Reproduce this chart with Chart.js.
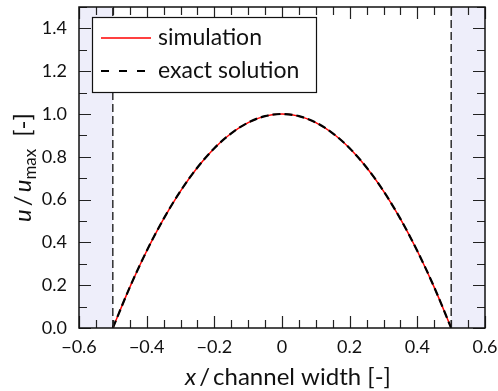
<!DOCTYPE html>
<html>
<head>
<meta charset="utf-8">
<script src="https://cdn.jsdelivr.net/npm/chart.js@4/dist/chart.umd.min.js"></script>
<style>
html,body{margin:0;padding:0;background:#fff;}
#wrap{width:498px;height:391px;position:relative;}
</style>
</head>
<body>
<div id="wrap"><canvas id="c" width="498" height="391"></canvas></div>
<script>
// ---- data ----
const xPos = [-0.5,-0.45,-0.4,-0.35,-0.3,-0.25,-0.2,-0.15,-0.1,-0.05,0,0.05,0.1,0.15,0.2,0.25,0.3,0.35,0.4,0.45,0.5];
const simulation = [0,0.19,0.36,0.51,0.64,0.75,0.84,0.91,0.96,0.99,1.0,0.99,0.96,0.91,0.84,0.75,0.64,0.51,0.36,0.19,0];
const exactSolution = [0,0.19,0.36,0.51,0.64,0.75,0.84,0.91,0.96,0.99,1.0,0.99,0.96,0.91,0.84,0.75,0.64,0.51,0.36,0.19,0];
const wallPositions = [-0.5, 0.5];
const xRange = [-0.6, 0.6];
const yRange = [0, 1.5];
const xMajorTicks = [-0.6,-0.4,-0.2,0,0.2,0.4,0.6];
const yMajorTicks = [0,0.2,0.4,0.6,0.8,1.0,1.2,1.4];
const xMinorStep = 0.05;
const yMinorStep = 0.1;
const legendLabels = ['simulation', 'exact solution'];

const FONT = 'Lato, "DejaVu Sans", sans-serif';
const SHADE = '#eeeefa';

function pts(xs, ys){ return xs.map((x,i)=>({x:x, y:ys[i]})); }

const wallData = [];
wallPositions.forEach((w,i)=>{
  if(i>0) wallData.push({x:w, y:NaN});
  wallData.push({x:w, y:yRange[0]});
  wallData.push({x:w, y:yRange[1]});
});

function fmtX(v){
  if (Math.abs(v) < 1e-9) return '0';
  return v.toFixed(1).replace('-', '\u2212');
}

const decor = {
  id: 'decor',
  beforeDatasetsDraw(chart){
    const {ctx, chartArea:a, scales:{x}} = chart;
    ctx.save();
    ctx.fillStyle = SHADE;
    const xl = x.getPixelForValue(xRange[0]);
    const wl = x.getPixelForValue(wallPositions[0]);
    const wr = x.getPixelForValue(wallPositions[1]);
    const xr = x.getPixelForValue(xRange[1]);
    ctx.fillRect(xl, a.top, wl-xl, a.bottom-a.top);
    ctx.fillRect(wr, a.top, xr-wr, a.bottom-a.top);
    ctx.restore();
  },
  afterDatasetsDraw(chart){
    const {ctx, chartArea:a, scales:{x,y}} = chart;
    ctx.save();
    // ticks (inward, all four sides)
    ctx.strokeStyle = '#222';
    ctx.lineWidth = 1.2;
    const MAJ = 12, MIN = 8;
    ctx.beginPath();
    const nx = Math.round((xRange[1]-xRange[0])/xMinorStep);
    for(let i=0;i<=nx;i++){
      const v = xRange[0] + i*xMinorStep;
      const isMaj = xMajorTicks.some(t=>Math.abs(t-v)<1e-9);
      const len = isMaj?MAJ:MIN;
      const px = Math.round(x.getPixelForValue(v))+0.5;
      ctx.moveTo(px, a.bottom); ctx.lineTo(px, a.bottom-len);
      ctx.moveTo(px, a.top); ctx.lineTo(px, a.top+len);
    }
    const ny = Math.round((yRange[1]-yRange[0])/yMinorStep);
    for(let i=0;i<=ny;i++){
      const v = yRange[0] + i*yMinorStep;
      const isMaj = yMajorTicks.some(t=>Math.abs(t-v)<1e-9);
      const len = isMaj?MAJ:MIN;
      const py = Math.round(y.getPixelForValue(v))+0.5;
      ctx.moveTo(a.left, py); ctx.lineTo(a.left+len, py);
      ctx.moveTo(a.right, py); ctx.lineTo(a.right-len, py);
    }
    ctx.stroke();
    // frame
    ctx.strokeStyle = '#111';
    ctx.lineWidth = 1.5;
    ctx.strokeRect(a.left, a.top, a.right-a.left, a.bottom-a.top);

    // legend
    const bx = a.left + 13, by = a.top + 10, bw = 224, bh = 75;
    ctx.fillStyle = '#fff';
    ctx.fillRect(bx, by, bw, bh);
    ctx.strokeStyle = '#111';
    ctx.lineWidth = 1.2;
    ctx.strokeRect(bx+0.5, by+0.5, bw, bh);
    const rows = [by+21, by+54];
    const ds = chart.data.datasets;
    const sampleDash = [[], [8, 10]];
    [0,1].forEach(i=>{
      const d = ds[i];
      ctx.beginPath();
      ctx.strokeStyle = d.borderColor;
      ctx.lineWidth = d.borderWidth;
      ctx.setLineDash(sampleDash[i]);
      ctx.moveTo(bx+9, rows[i]); ctx.lineTo(bx+59, rows[i]);
      ctx.stroke();
      ctx.setLineDash([]);
      ctx.fillStyle = '#111';
      ctx.font = '23px ' + FONT;
      ctx.textBaseline = 'middle';
      ctx.textAlign = 'left';
      ctx.fillText(legendLabels[i], bx+66, rows[i]);
    });

    // x axis title
    ctx.fillStyle = '#111';
    ctx.textBaseline = 'alphabetic';
    const it = 'italic 24px ' + FONT, up = '24px ' + FONT;
    const parts = [[it,'x'],[up,'\u2009/\u2009channel width [-]']];
    let tw = 0;
    parts.forEach(p=>{ctx.font=p[0]; tw+=ctx.measureText(p[1]).width;});
    let cx = (a.left+a.right)/2 - tw/2 + 6;
    const baseY = 385;
    parts.forEach(p=>{ctx.font=p[0]; ctx.fillText(p[1], cx, baseY); cx += ctx.measureText(p[1]).width;});

    // y axis title (rotated)
    ctx.save();
    ctx.translate(31, (a.top+a.bottom)/2);
    ctx.rotate(-Math.PI/2);
    const sub = '17px ' + FONT;
    const yparts = [[it,'u',0],[up,'\u2009/\u2009',0],[it,'u',0],[sub,'max',5],[up,'\u2002[-]',0]];
    tw = 0;
    yparts.forEach(p=>{ctx.font=p[0]; tw+=ctx.measureText(p[1]).width;});
    cx = -tw/2;
    yparts.forEach(p=>{ctx.font=p[0]; ctx.fillText(p[1], cx, p[2]); cx += ctx.measureText(p[1]).width;});
    ctx.restore();
    ctx.restore();
  }
};

new Chart(document.getElementById('c'), {
  type: 'line',
  data: {
    datasets: [
      { label: legendLabels[0], data: pts(xPos, simulation), borderColor: '#ff0000', borderWidth: 1.5,
        pointRadius: 0, cubicInterpolationMode: 'monotone', fill: false, order: 2 },
      { label: legendLabels[1], data: pts(xPos, exactSolution), borderColor: '#000000', borderWidth: 2.2,
        borderDash: [8, 4], pointRadius: 0, cubicInterpolationMode: 'monotone', fill: false, order: 1 },
      { label: 'walls', data: wallData, borderColor: '#111', borderWidth: 1.3, borderDash: [8, 4],
        pointRadius: 0, spanGaps: false, fill: false, order: 3 }
    ]
  },
  options: {
    responsive: false,
    animation: false,
    devicePixelRatio: 1,
    layout: { padding: { top: 7, right: 13, left: 0, bottom: 0 } },
    plugins: { legend: { display: false }, tooltip: { enabled: false } },
    scales: {
      x: {
        type: 'linear', min: xRange[0], max: xRange[1],
        grid: { display: false, drawTicks: false }, border: { display: false },
        ticks: { stepSize: 0.2, padding: 8, color: '#111', font: { family: FONT, size: 18 },
          callback: v => fmtX(v), maxRotation: 0, autoSkip: false },
        afterFit: s => { s.height = 63; s.paddingLeft = 0; s.paddingRight = 0; }
      },
      y: {
        type: 'linear', min: yRange[0], max: yRange[1],
        grid: { display: false, drawTicks: false }, border: { display: false },
        afterBuildTicks: s => { s.ticks = yMajorTicks.map(v=>({value:v})); },
        ticks: { padding: 12, color: '#111', font: { family: FONT, size: 18 },
          callback: v => v.toFixed(1) },
        afterFit: s => { s.width = 79; s.paddingTop = 0; s.paddingBottom = 0; }
      }
    }
  },
  plugins: [decor]
});
</script>
</body>
</html>
